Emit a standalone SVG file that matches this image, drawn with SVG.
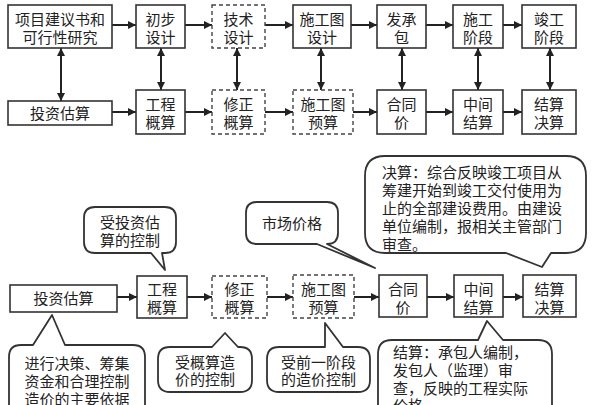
<svg xmlns="http://www.w3.org/2000/svg" width="596" height="405" viewBox="0 0 596 405">
<defs>
<marker id="ah" viewBox="0 0 10 10" refX="10" refY="5" markerUnits="userSpaceOnUse" markerWidth="9" markerHeight="8" orient="auto-start-reverse">
<path d="M0,0 L10,5 L0,10 Z" fill="#222"/>
</marker>
</defs>
<style>
.b{fill:#fff;stroke:#333;stroke-width:1.6}
.d{fill:#fff;stroke:#444;stroke-width:1.4;stroke-dasharray:4 3}
.c{fill:#fff;stroke:#333;stroke-width:1.8;stroke-linejoin:round}
text{font-family:"Liberation Sans","Noto Sans CJK SC",sans-serif;font-size:15px;fill:#222;text-anchor:middle;dominant-baseline:central}
.l{text-anchor:start}
.a{stroke:#222;stroke-width:2;fill:none;marker-end:url(#ah)}
.da{stroke:#222;stroke-width:2;fill:none;marker-end:url(#ah);marker-start:url(#ah)}
</style>
<rect width="596" height="405" fill="#fff"/>

<g id="connectors">
<line class="a" x1="112" y1="25" x2="136" y2="25"/>
<line class="a" x1="185" y1="25" x2="212" y2="25"/>
<line class="a" x1="265" y1="25" x2="293" y2="25"/>
<line class="a" x1="351" y1="25" x2="377" y2="25"/>
<line class="a" x1="426" y1="25" x2="453" y2="25"/>
<line class="a" x1="503" y1="25" x2="522" y2="25"/>
<line class="a" x1="112" y1="112" x2="136" y2="112"/>
<line class="a" x1="185" y1="112" x2="212" y2="112"/>
<line class="a" x1="265" y1="112" x2="293" y2="112"/>
<line class="a" x1="353" y1="112" x2="377" y2="112"/>
<line class="a" x1="426" y1="112" x2="453" y2="112"/>
<line class="a" x1="503" y1="112" x2="522" y2="112"/>
<line class="da" x1="61" y1="48" x2="61" y2="101"/>
<line class="da" x1="161" y1="48" x2="161" y2="90"/>
<line class="da" x1="237" y1="48" x2="237" y2="90"/>
<line class="da" x1="321" y1="48" x2="321" y2="90"/>
<line class="da" x1="402" y1="48" x2="402" y2="90"/>
<line class="da" x1="478" y1="48" x2="478" y2="90"/>
<line class="da" x1="550" y1="48" x2="550" y2="90"/>
<line class="a" x1="117" y1="297" x2="137" y2="297"/>
<line class="a" x1="187" y1="297" x2="212" y2="297"/>
<line class="a" x1="267" y1="297" x2="293" y2="297"/>
<line class="a" x1="354" y1="297" x2="379" y2="297"/>
<line class="a" x1="427" y1="297" x2="454" y2="297"/>
<line class="a" x1="503" y1="297" x2="523" y2="297"/>
</g>

<g id="n1"><rect class="b" x="8" y="5" width="104" height="43"/><text x="60" y="19">项目建议书和</text><text x="60" y="37">可行性研究</text></g>
<g id="n2"><rect class="b" x="136" y="5" width="49" height="43"/><text x="160.5" y="19">初步</text><text x="160.5" y="37">设计</text></g>
<g id="n3"><rect class="d" x="212" y="5" width="53" height="43"/><text x="238.5" y="19">技术</text><text x="238.5" y="37">设计</text></g>
<g id="n4"><rect class="b" x="293" y="5" width="58" height="43"/><text x="322" y="19">施工图</text><text x="322" y="37">设计</text></g>
<g id="n5"><rect class="b" x="377" y="5" width="49" height="43"/><text x="401.5" y="19">发承</text><text x="401.5" y="37">包</text></g>
<g id="n6"><rect class="b" x="453" y="5" width="50" height="43"/><text x="478" y="19">施工</text><text x="478" y="37">阶段</text></g>
<g id="n7"><rect class="b" x="522" y="5" width="54" height="43"/><text x="549" y="19">竣工</text><text x="549" y="37">阶段</text></g>

<g id="m1"><rect class="b" x="8" y="101" width="104" height="24"/><text x="60" y="113">投资估算</text></g>
<g id="m2"><rect class="b" x="136" y="90" width="49" height="44"/><text x="160.5" y="104">工程</text><text x="160.5" y="122">概算</text></g>
<g id="m3"><rect class="d" x="212" y="90" width="53" height="44"/><text x="238.5" y="104">修正</text><text x="238.5" y="122">概算</text></g>
<g id="m4"><rect class="d" x="293" y="90" width="60" height="44"/><text x="323" y="104">施工图</text><text x="323" y="122">预算</text></g>
<g id="m5"><rect class="b" x="377" y="90" width="49" height="44"/><text x="401.5" y="104">合同</text><text x="401.5" y="122">价</text></g>
<g id="m6"><rect class="b" x="453" y="90" width="50" height="44"/><text x="478" y="104">中间</text><text x="478" y="122">结算</text></g>
<g id="m7"><rect class="b" x="522" y="90" width="54" height="44"/><text x="549" y="104">结算</text><text x="549" y="122">决算</text></g>

<g id="b1"><rect class="b" x="10" y="285" width="107" height="27"/><text x="63.5" y="298">投资估算</text></g>
<g id="b2"><rect class="b" x="137" y="276" width="50" height="42"/><text x="162" y="289">工程</text><text x="162" y="307">概算</text></g>
<g id="b3"><rect class="d" x="212" y="276" width="55" height="42"/><text x="239.5" y="289">修正</text><text x="239.5" y="307">概算</text></g>
<g id="b4"><rect class="d" x="293" y="275" width="61" height="43"/><text x="323.5" y="289">施工图</text><text x="323.5" y="307">预算</text></g>
<g id="b5"><rect class="b" x="379" y="275" width="48" height="42"/><text x="403" y="289">合同</text><text x="403" y="307">价</text></g>
<g id="b6"><rect class="b" x="454" y="275" width="49" height="42"/><text x="478.5" y="289">中间</text><text x="478.5" y="307">结算</text></g>
<g id="b7"><rect class="b" x="523" y="275" width="53" height="42"/><text x="549.5" y="289">结算</text><text x="549.5" y="307">决算</text></g>

<g id="c1"><path class="c" d="M95,207 H165 Q176,207 176,218 V242 Q176,253 165,253 H162 L165,270 L151,253 H95 Q84,253 84,242 V218 Q84,207 95,207 Z"/><text x="130" y="222">受投资估</text><text x="130" y="240">算的控制</text></g>
<g id="c2"><path class="c" d="M257,202 H327 Q338,202 338,213 V233 Q338,244 327,244 L375,268 L317,244 H257 Q246,244 246,233 V213 Q246,202 257,202 Z"/><text x="292" y="223">市场价格</text></g>
<g id="c3"><path class="c" d="M385,156 H566 Q586,156 586,176 V233 Q586,253 566,253 H551 L542,267 L506,253 H385 Q365,253 365,233 V176 Q365,156 385,156 Z"/>
<text class="l" x="382" y="172">决算：综合反映竣工项目从</text>
<text class="l" x="382" y="190">筹建开始到竣工交付使用为</text>
<text class="l" x="382" y="208">止的全部建设费用。由建设</text>
<text class="l" x="382" y="226">单位编制，报相关主管部门</text>
<text class="l" x="382" y="244">审查。</text></g>
<g id="c4"><path class="c" d="M21,345 H33 L52,315 L65,345 H133 Q145,345 145,357 V425 H9 V357 Q9,345 21,345 Z"/>
<text x="77" y="363">进行决策、筹集</text>
<text x="77" y="381">资金和合理控制</text>
<text x="77" y="399">造价的主要依据</text></g>
<g id="c5"><path class="c" d="M170,347 H212 L225,333 L238,347 H240 Q252,347 252,359 V380 Q252,392 240,392 H170 Q158,392 158,380 V359 Q158,347 170,347 Z"/><text x="205" y="362">受概算造</text><text x="205" y="379">价的控制</text></g>
<g id="c6"><path class="c" d="M279,347 H325 V323 L343,347 H358 Q370,347 370,359 V380 Q370,392 358,392 H279 Q267,392 267,380 V359 Q267,347 279,347 Z"/><text x="318.5" y="362">受前一阶段</text><text x="318.5" y="379">的造价控制</text></g>
<g id="c7"><path class="c" d="M392,340 H478 L487,321 L503,340 H538 Q552,340 552,354 V425 H378 V354 Q378,340 392,340 Z"/>
<text class="l" x="393" y="352">结算：承包人编制，</text>
<text class="l" x="393" y="370">发包人（监理）审</text>
<text class="l" x="393" y="388">查，反映的工程实际</text>
<text class="l" x="393" y="405">价格</text></g>
</svg>
